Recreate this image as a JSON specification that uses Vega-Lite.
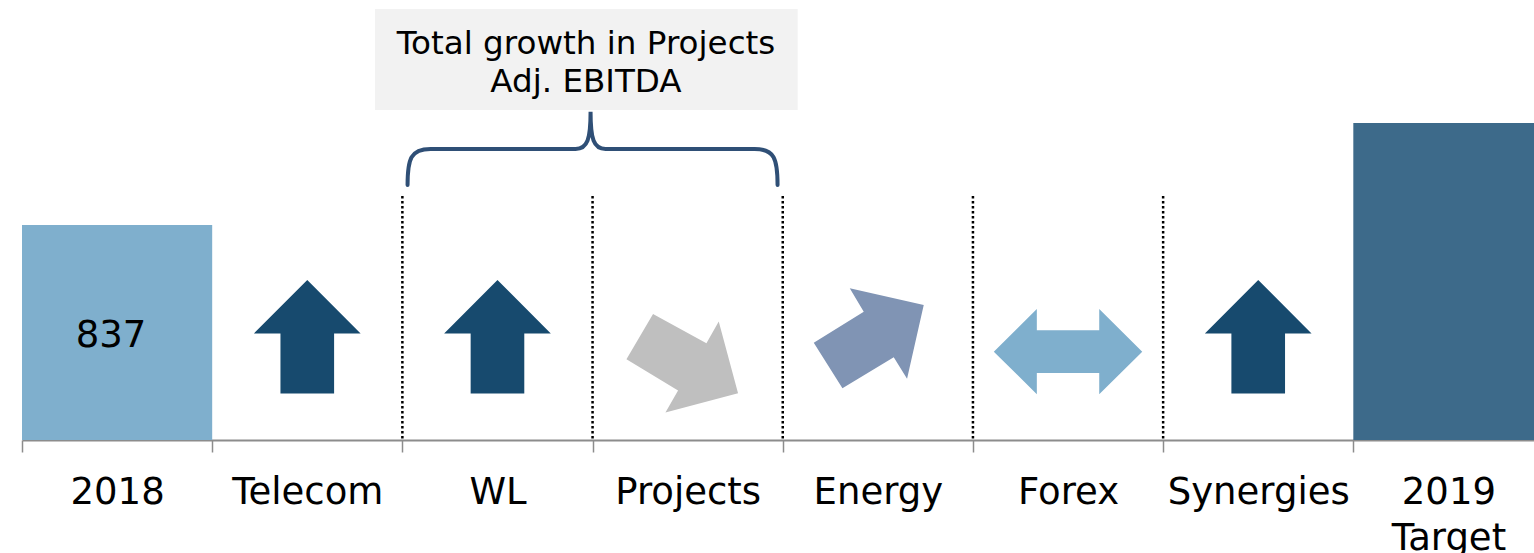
{
  "$schema": "https://vega.github.io/schema/vega-lite/v6.json",
  "width": 1512,
  "height": 440,
  "autosize": {"type": "none"},
  "padding": {"left": 22, "top": 0, "right": 0, "bottom": 113},
  "background": "#ffffff",
  "config": {
    "view": {"stroke": null},
    "font": "DejaVu Sans",
    "axis": {
      "domainColor": "#8c8c8c",
      "domainWidth": 2,
      "tickColor": "#8c8c8c",
      "tickWidth": 1.5,
      "tickSize": 12,
      "tickBand": "extent",
      "labelFont": "DejaVu Sans",
      "labelFontSize": 37,
      "labelColor": "#000000",
      "labelPadding": 22,
      "labelOverlap": false,
      "labelBound": false,
      "labelFlush": false,
      "labelLimit": 400,
      "labelLineHeight": 46,
      "grid": false,
      "title": null,
      "zindex": 1
    }
  },
  "data": {
    "values": [
      {"cat": "2018", "type": "total", "value": 837},
      {"cat": "Telecom", "type": "up", "level": 402},
      {"cat": "WL", "type": "up", "level": 402, "divider": true},
      {"cat": "Projects", "type": "down-right", "level": 299, "divider": true},
      {"cat": "Energy", "type": "up-right", "level": 396, "divider": true},
      {"cat": "Forex", "type": "neutral", "level": 344, "divider": true},
      {"cat": "Synergies", "type": "up", "level": 402, "divider": true},
      {"cat": "2019 Target", "type": "target", "value": 1234}
    ]
  },
  "encoding": {
    "x": {
      "field": "cat",
      "type": "nominal",
      "sort": null,
      "scale": {
        "domain": ["2018", "Telecom", "WL", "Projects", "Energy", "Forex", "Synergies", "2019 Target"],
        "range": [0, 1521.5],
        "paddingInner": 0,
        "paddingOuter": 0
      },
      "axis": {"labelAngle": 0, "labelExpr": "split(datum.label, ' ')"}
    }
  },
  "layer": [
    {
      "transform": [{"filter": "isValid(datum.value)"}],
      "mark": {"type": "bar"},
      "encoding": {
        "y": {"field": "value", "type": "quantitative", "scale": {"domain": [0, 1713], "nice": false, "zero": true}, "axis": null},
        "color": {
          "field": "type",
          "type": "nominal",
          "scale": {
            "domain": ["total", "target", "up", "down-right", "up-right", "neutral"],
            "range": ["#7fafcd", "#3d6a8a", "#174a6e", "#bfbfbf", "#8094b4", "#7fafcd"]
          },
          "legend": null
        }
      }
    },
    {
      "transform": [{"filter": "datum.divider === true"}],
      "mark": {"type": "rule", "color": "#000000", "strokeWidth": 2.5, "strokeDash": [2.5, 2.5]},
      "encoding": {
        "x": {"field": "cat", "type": "nominal", "bandPosition": 0},
        "y": {"datum": 950, "type": "quantitative"},
        "y2": {"datum": 0}
      }
    },
    {
      "transform": [{"filter": "isValid(datum.level)"}],
      "mark": {"type": "point", "filled": true, "opacity": 1, "size": 14400, "strokeWidth": 0},
      "encoding": {
        "y": {"field": "level", "type": "quantitative"},
        "color": {"field": "type", "type": "nominal", "legend": null},
        "shape": {
          "field": "type",
          "type": "nominal",
          "scale": {
            "domain": ["up", "down-right", "up-right", "neutral"],
            "range": [
              "M0,-0.944L0.889,-0.056L0.447,-0.056L0.447,0.944L-0.447,0.944L-0.447,-0.056L-0.889,-0.056Z",
              "M-0.577,-0.822L0.313,-0.333L0.518,-0.693L0.84,0.5L-0.37,0.823L-0.16,0.457L-1.02,-0.067Z",
              "M-0.468,-0.833L0.765,-0.555L0.487,0.673L0.265,0.317L-0.59,0.833L-1.068,0.073L-0.235,-0.443Z",
              "M-1.237,0L-0.52,-0.71L-0.52,-0.358L0.52,-0.358L0.52,-0.71L1.237,0L0.52,0.71L0.52,0.358L-0.52,0.358L-0.52,0.71Z"
            ]
          },
          "legend": null
        }
      }
    },
    {
      "transform": [{"filter": "datum.type === 'total'"}, {"calculate": "datum.value / 2", "as": "mid"}],
      "mark": {"type": "text", "fontSize": 37, "color": "#000000", "baseline": "middle", "align": "center", "dx": -6, "dy": 3},
      "encoding": {
        "y": {"field": "mid", "type": "quantitative"},
        "text": {"field": "value", "type": "quantitative"}
      }
    },
    {
      "data": {"values": [{"cat": "Projects", "note": "Total growth in Projects\nAdj. EBITDA"}]},
      "layer": [
        {
          "mark": {"type": "point", "filled": true, "opacity": 1, "size": 40000, "strokeWidth": 0, "color": "#f2f2f2",
                   "shape": "M-2.176,-0.505L2.051,-0.505L2.051,0.505L-2.176,0.505Z"},
          "encoding": {
            "x": {"field": "cat", "type": "nominal", "bandPosition": 0},
            "y": {"datum": 1481, "type": "quantitative"}
          }
        },
        {
          "mark": {"type": "text", "fontSize": 32.6, "color": "#000000", "align": "center", "baseline": "alphabetic", "lineBreak": "\n", "lineHeight": 38, "dx": -6.6},
          "encoding": {
            "x": {"field": "cat", "type": "nominal", "bandPosition": 0},
            "y": {"datum": 1503, "type": "quantitative"},
            "text": {"field": "note", "type": "nominal"}
          }
        },
        {
          "mark": {"type": "point", "filled": false, "opacity": 1, "size": 40000, "strokeWidth": 4, "color": "#2f4f76", "strokeCap": "round",
                   "shape": "M-1.85,0.36C-1.85,0.1,-1.82,0,-1.62,0L-0.17,0C-0.05,0,-0.02,-0.1,-0.02,-0.373C-0.02,-0.1,0.01,0,0.13,0L1.62,0C1.82,0,1.85,0.1,1.85,0.36"},
          "encoding": {
            "x": {"field": "cat", "type": "nominal", "bandPosition": 0},
            "y": {"datum": 1133, "type": "quantitative"}
          }
        }
      ]
    }
  ]
}
